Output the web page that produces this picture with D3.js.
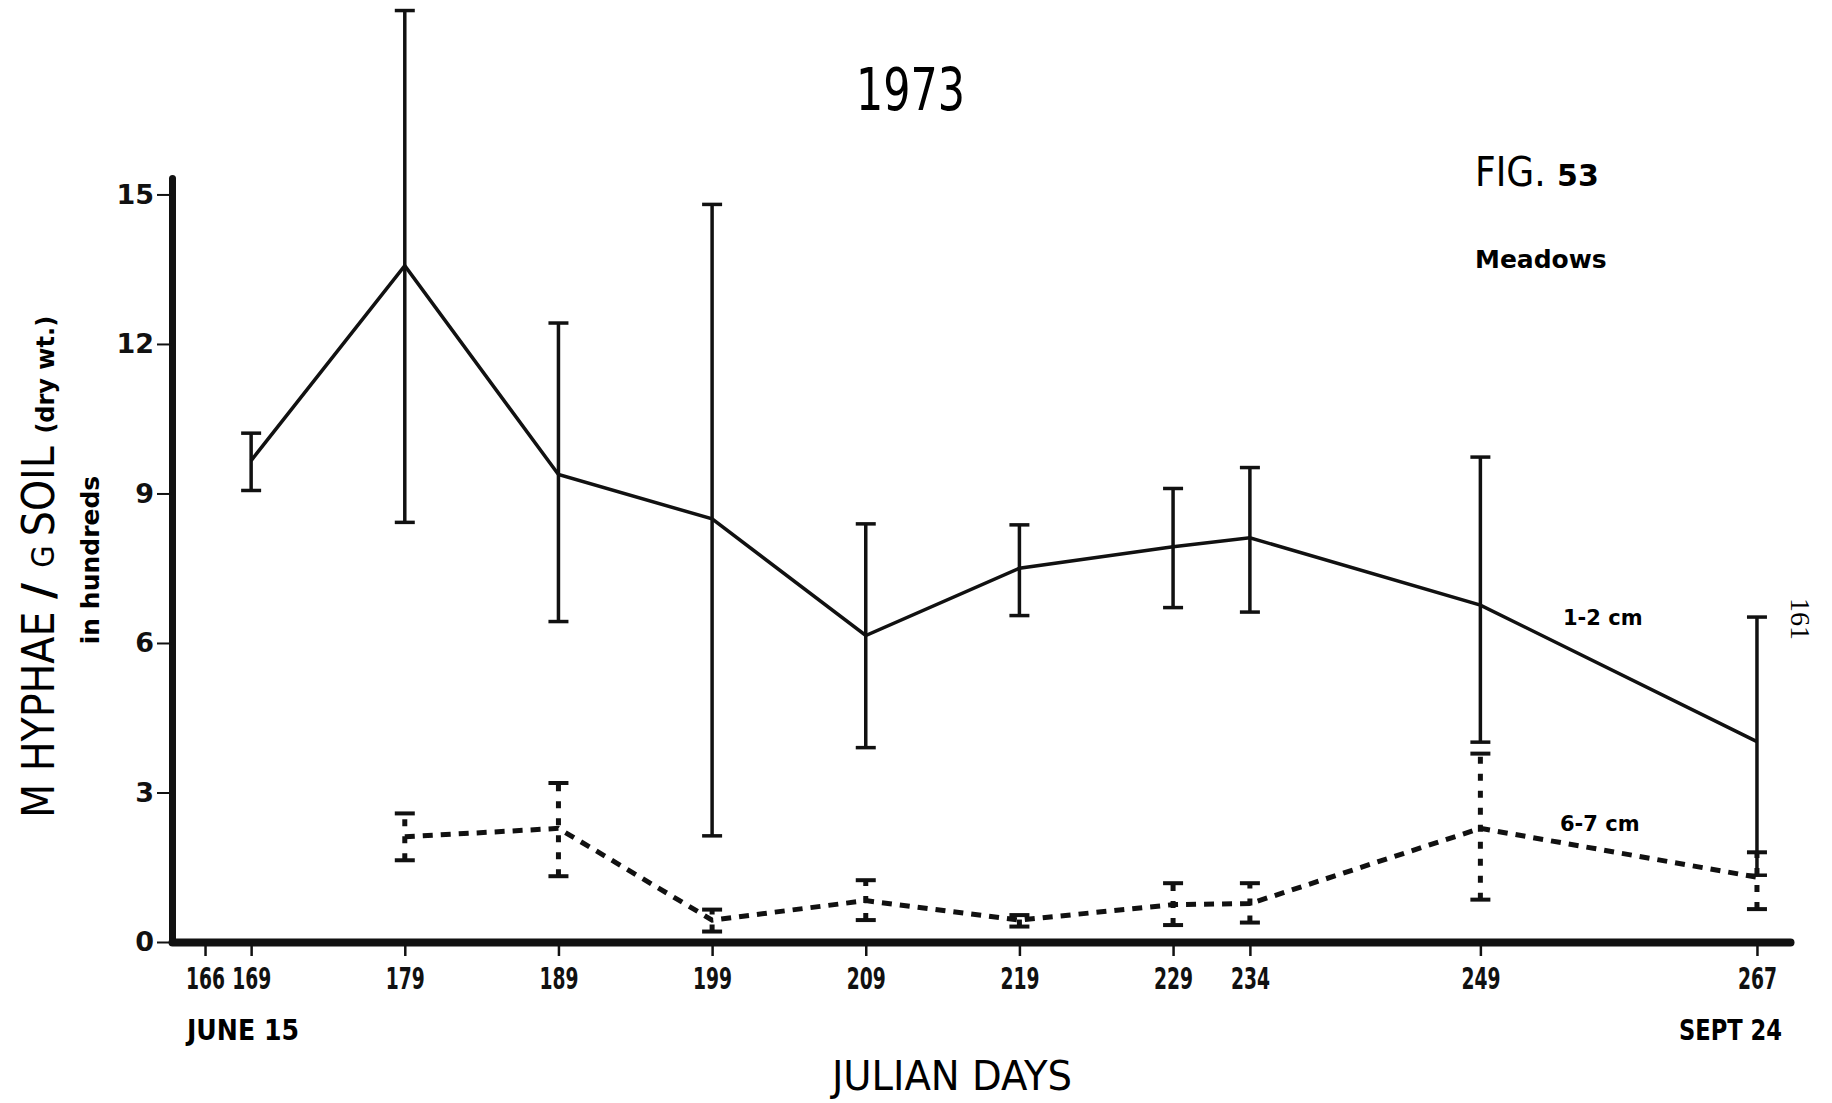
<!DOCTYPE html>
<html lang="en">
<head>
	<meta charset="UTF-8">
	<title>1973 Meadows</title>
	<script src="https://d3js.org/d3.v7.min.js" charset="utf-8"></script>
	<style>
		body { margin: 0; background: #fff; }
		.narrow { font-family: "Liberation Sans Narrow", "DejaVu Sans Condensed", sans-serif; font-stretch: condensed; }
		.bold { font-family: "DejaVu Sans", sans-serif; font-weight: bold; }
	</style>
</head>
<body>
	<svg></svg>
	<script>
		// julian days sampled
		const days = [169, 179, 189, 199, 209, 219, 229, 234, 249, 267]
		const tickDays = [166, 169, 179, 189, 199, 209, 219, 229, 234, 249, 267]
		const yTicks = [0, 3, 6, 9, 12, 15]

		// 1-2 cm series (hundreds)
		const shallowMean = [9.66, 13.57, 9.38, 8.49, 6.15, 7.50, 7.93, 8.11, 6.76, 4.02]
		const shallowLow  = [9.06, 8.42, 6.43, 2.13, 3.90, 6.55, 6.71, 6.62, 4.01, 1.34]
		const shallowHigh = [10.21, 18.69, 12.42, 14.80, 8.39, 8.37, 9.10, 9.52, 9.73, 6.52]

		// 6-7 cm series, no value at 169
		const deepDays = [179, 189, 199, 209, 219, 229, 234, 249, 267]
		const deepMean = [2.11, 2.28, 0.44, 0.83, 0.44, 0.75, 0.77, 2.28, 1.30]
		const deepLow  = [1.64, 1.32, 0.21, 0.44, 0.31, 0.34, 0.39, 0.85, 0.66]
		const deepHigh = [2.58, 3.19, 0.65, 1.24, 0.54, 1.18, 1.18, 3.78, 1.80]

		const W = 1832, H = 1103

		let svg = d3.select('svg')
			.attr('width', W)
			.attr('height', H)

		let x = d3.scaleLinear().domain([163.85, 269.15]).range([172, 1790])
		let y = d3.scaleLinear().domain([0, 15.33]).range([942, 178])

		// axes
		let yAxis = svg.append('g')
			.attr('transform', 'translate(172,0)')
			.call(d3.axisLeft(y).tickValues(yTicks).tickSize(15).tickSizeOuter(0).tickPadding(3))
		yAxis.select('.domain').attr('stroke', '#111').attr('stroke-width', 7).attr('stroke-linecap', 'round')
		yAxis.selectAll('.tick line').attr('stroke', '#111').attr('stroke-width', 2)
		yAxis.selectAll('.tick text')
			.attr('class', 'bold')
			.attr('font-size', 27)
			.attr('fill', '#111')

		let xAxis = svg.append('g')
			.attr('transform', 'translate(0,942)')
			.call(d3.axisBottom(x).tickValues(tickDays).tickSize(14).tickSizeOuter(0).tickPadding(11))
		xAxis.select('.domain').attr('stroke', '#111').attr('stroke-width', 8).attr('stroke-linecap', 'round')
		xAxis.selectAll('.tick line').attr('stroke', '#111').attr('stroke-width', 2.5)
		xAxis.selectAll('.tick text')
			.attr('class', 'narrow')
			.attr('font-weight', 'bold')
			.attr('font-size', 31)
			.attr('textLength', 39)
			.attr('lengthAdjust', 'spacingAndGlyphs')
			.attr('fill', '#111')

		// error bars
		function errorBars(g, ds, lo, hi, dashed) {
			let bars = g.selectAll('g.err')
				.data(ds.map((d, i) => ({ d: d, lo: lo[i], hi: hi[i] })))
				.join('g')
				.attr('class', 'err')
			bars.append('line')
				.attr('x1', d => x(d.d)).attr('x2', d => x(d.d))
				.attr('y1', d => y(d.lo)).attr('y2', d => y(d.hi))
				.attr('stroke', '#111')
				.attr('stroke-width', dashed ? 5 : 3.5)
				.attr('stroke-dasharray', dashed ? '7,10' : null)
			;['lo', 'hi'].forEach(k => {
				bars.append('line')
					.attr('x1', d => x(d.d) - 10).attr('x2', d => x(d.d) + 10)
					.attr('y1', d => y(d[k])).attr('y2', d => y(d[k]))
					.attr('stroke', '#111')
					.attr('stroke-width', dashed ? 4 : 3.5)
			})
		}

		let line = d3.line().x(d => x(d[0])).y(d => y(d[1]))

		let shallow = svg.append('g')
		errorBars(shallow, days, shallowLow, shallowHigh, false)
		shallow.append('path')
			.datum(days.map((d, i) => [d, shallowMean[i]]))
			.attr('d', line)
			.attr('fill', 'none')
			.attr('stroke', '#111')
			.attr('stroke-width', 3.5)

		let deep = svg.append('g')
		errorBars(deep, deepDays, deepLow, deepHigh, true)
		deep.append('path')
			.datum(deepDays.map((d, i) => [d, deepMean[i]]))
			.attr('d', line)
			.attr('fill', 'none')
			.attr('stroke', '#111')
			.attr('stroke-width', 5)
			.attr('stroke-dasharray', '10,8')

		// texts
		svg.append('text').attr('class', 'narrow')
			.attr('x', 856).attr('y', 110)
			.attr('font-size', 58)
			.attr('textLength', 109)
			.attr('lengthAdjust', 'spacingAndGlyphs')
			.text('1973')

		let fig = svg.append('text').attr('x', 1475).attr('y', 186)
		fig.append('tspan').attr('class', 'narrow').attr('font-size', 40).text('FIG. ')
		fig.append('tspan').attr('class', 'bold').attr('font-size', 30).text('53')

		svg.append('text').attr('class', 'bold')
			.attr('x', 1475).attr('y', 268)
			.attr('font-size', 25)
			.text('Meadows')

		svg.append('text').attr('class', 'bold')
			.attr('x', 1563).attr('y', 625)
			.attr('font-size', 21)
			.text('1-2 cm')

		svg.append('text').attr('class', 'bold')
			.attr('x', 1560).attr('y', 831)
			.attr('font-size', 21)
			.text('6-7 cm')

		svg.append('text')
			.attr('transform', 'translate(1791,598) rotate(90)')
			.attr('font-family', '"Liberation Serif", "DejaVu Serif", serif')
			.attr('font-size', 28)
			.text('161')

		svg.append('text').attr('class', 'narrow')
			.attr('x', 187).attr('y', 1040)
			.attr('font-weight', 'bold')
			.attr('font-size', 29)
			.attr('textLength', 112)
			.attr('lengthAdjust', 'spacingAndGlyphs')
			.text('JUNE 15')

		svg.append('text').attr('class', 'narrow')
			.attr('x', 1679).attr('y', 1040)
			.attr('font-weight', 'bold')
			.attr('font-size', 29)
			.attr('textLength', 103)
			.attr('lengthAdjust', 'spacingAndGlyphs')
			.text('SEPT 24')

		svg.append('text').attr('class', 'narrow')
			.attr('x', 832).attr('y', 1090)
			.attr('font-size', 40)
			.attr('textLength', 240)
			.attr('lengthAdjust', 'spacingAndGlyphs')
			.text('JULIAN  DAYS')

		// y axis title
		let yt = svg.append('text')
			.attr('transform', 'translate(54,818) rotate(-90)')
		yt.append('tspan').attr('class', 'narrow').attr('font-size', 44).text('M  HYPHAE ')
		yt.append('tspan').attr('class', 'bold').attr('font-size', 44).text('/ ')
		yt.append('tspan').attr('class', 'narrow').attr('font-size', 32).text('G ')
		yt.append('tspan').attr('class', 'narrow').attr('font-size', 44).text('SOIL ')
		yt.append('tspan').attr('class', 'bold').attr('font-size', 24).text('(dry wt.)')

		svg.append('text').attr('class', 'bold')
			.attr('transform', 'translate(99,560) rotate(-90)')
			.attr('text-anchor', 'middle')
			.attr('font-size', 25)
			.text('in hundreds')
	</script>
</body>
</html>
